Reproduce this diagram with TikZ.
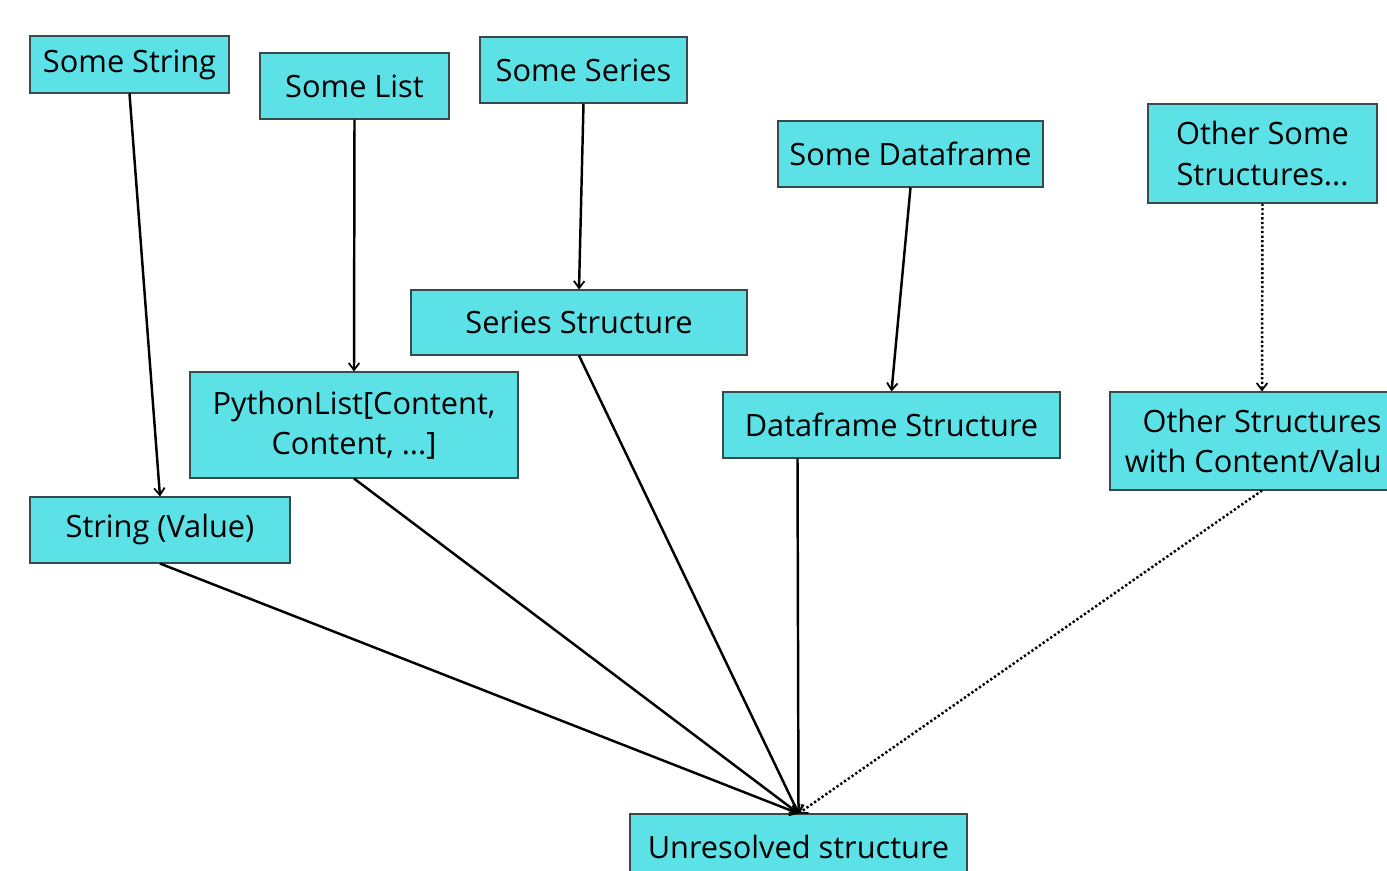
\documentclass[tikz,border=0pt]{standalone}
\usepackage{fontspec}
\setmainfont{Open Sans}
\usetikzlibrary{arrows.meta,calc}
\definecolor{cyanbox}{HTML}{5CE1E6}
\definecolor{boxline}{HTML}{3A4A4C}
\begin{document}
\begin{tikzpicture}[x=0.02cm,y=-0.02cm,
  box/.style={draw=boxline, fill=cyanbox, line width=0.6pt, inner sep=0pt, align=center,
    font=\fontsize{17.5}{23}\selectfont},
  sz/.style n args={2}{minimum width=#1*0.02cm, minimum height=#2*0.02cm},
  conn/.style={line width=1.4pt, -{Straight Barb[length=4pt,width=6pt,line width=1pt]}},
  dconn/.style={conn, dash pattern=on 1.3pt off 1.3pt}]
\path[use as bounding box] (0,0) rectangle (1387,870);
\clip (0,0) rectangle (1387,870);
\fill[white] (0,0) rectangle (1387,870);

\node[box, sz={199}{57}] (sstr) at (129.5,64.5) {Some String};
\node[box, sz={189}{66}] (slist) at (354.5,86) {Some List};
\node[box, sz={207}{66}] (sser) at (583.5,70) {Some Series};
\node[box, sz={265}{66}] (sdf) at (910.5,154) {Some Dataframe};
\node[box, sz={229}{99}] (sother) at (1262.5,153.5) {Other Some\\Structures...};

\node[box, sz={336}{65}] (serstr) at (579,322.5) {Series Structure};
\node[box, sz={328}{106}] (plist) at (354,425) {PythonList[Content,\\Content, ...]};
\node[box, sz={337}{66}] (dfstr) at (891.5,425) {Dataframe Structure};
\node[box, sz={304}{98}] (ostr) at (1262,441) {Other Structures\\with Content/Valu\phantom{e}};
\node[box, sz={260}{66}] (sval) at (160,530) {String (Value)};
\node[box, sz={337}{66}] (unres) at (798.5,847) {Unresolved structure};

\coordinate (dfout) at ($(dfstr.south)+(-94,0)$);

\draw[conn] (sstr.south) -- (sval.north);
\draw[conn] (slist.south) -- (plist.north);
\draw[conn] (sser.south) -- (serstr.north);
\draw[conn] (sdf.south) -- (dfstr.north);
\draw[dconn] (sother.south) -- (ostr.north);

\draw[conn] (sval.south) -- (unres.north);
\draw[conn] (plist.south) -- (unres.north);
\draw[conn] (serstr.south) -- (unres.north);
\draw[conn] (dfout) -- (unres.north);
\draw[dconn] (ostr.south) -- (unres.north);
\end{tikzpicture}
\end{document}
